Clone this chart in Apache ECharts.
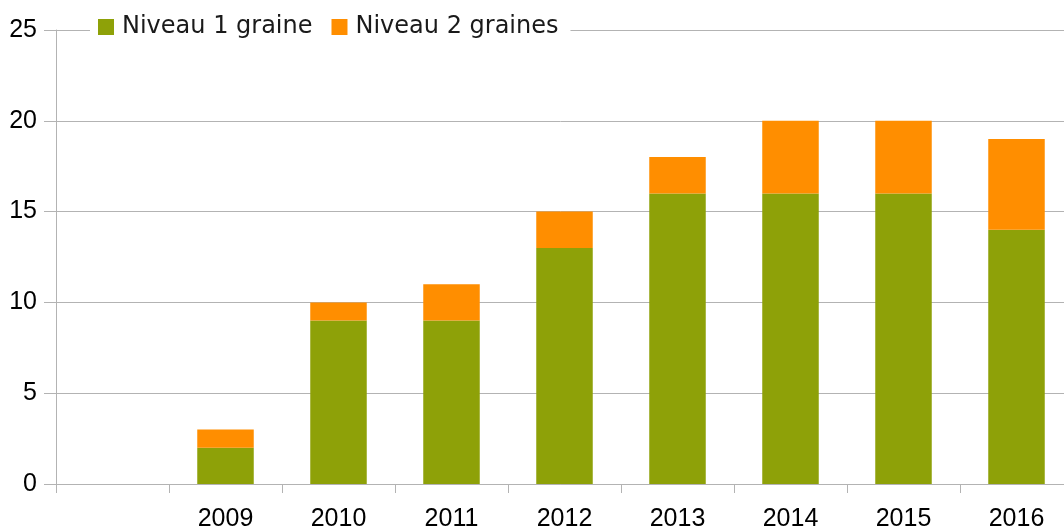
<!DOCTYPE html>
<html>
<head>
<meta charset="utf-8">
<script src="https://cdn.jsdelivr.net/npm/echarts@6/dist/echarts.min.js"></script>
<style>
  html, body { margin: 0; padding: 0; background: #fff; }
  #chart { width: 1064px; height: 527px; }
</style>
</head>
<body>
<div id="chart"></div>
<script>
// first category is empty in the original sheet
var years = ['', '2009', '2010', '2011', '2012', '2013', '2014', '2015', '2016'];
var niveau1 = [null, 2, 9, 9, 13, 16, 16, 16, 14];
var niveau2 = [null, 1, 1, 2, 2, 2, 4, 4, 5];
var yTicks = [0, 5, 10, 15, 20, 25];

var chart = echarts.init(document.getElementById('chart'));

var axisFont = {
    fontFamily: 'Liberation Sans',
    fontSize: 25,
    color: '#000'
};

chart.setOption({
    animation: false,
    grid: {
        left: 56,
        width: 1017,   // the last category runs past the right edge
        top: 30,
        height: 454,
        outerBoundsMode: 'none',
        containLabel: false
    },
    legend: {
        left: 90,
        top: 12,
        padding: [3, 12, 3, 8],
        backgroundColor: '#fff',
        itemWidth: 16,
        itemHeight: 16,
        itemGap: 19,
        icon: 'rect',
        textStyle: {
            fontFamily: 'DejaVu Sans',
            fontSize: 24,
            color: '#1a1a1a',
            padding: [0, 0, 0, 3]
        },
        data: ['Niveau 1 graine', 'Niveau 2 graines']
    },
    xAxis: {
        type: 'category',
        data: years,
        boundaryGap: true,
        axisLine: { lineStyle: { color: '#b3b3b3', width: 1 } },
        axisTick: { show: true, length: 9, interval: 0, lineStyle: { color: '#b3b3b3' } },
        axisLabel: Object.assign({ margin: 23, interval: 0 }, axisFont)
    },
    yAxis: {
        type: 'value',
        min: yTicks[0],
        max: yTicks[yTicks.length - 1],
        interval: 5,
        axisLine: { show: true, lineStyle: { color: '#b3b3b3', width: 1 } },
        axisTick: { show: true, length: 12, lineStyle: { color: '#b3b3b3' } },
        axisLabel: Object.assign({ margin: 19 }, axisFont),
        splitLine: { lineStyle: { color: '#b3b3b3', width: 1 } }
    },
    series: [
        {
            name: 'Niveau 1 graine',
            type: 'bar',
            stack: 'total',
            barWidth: '50%',
            itemStyle: { color: '#8ea108' },
            data: niveau1
        },
        {
            name: 'Niveau 2 graines',
            type: 'bar',
            stack: 'total',
            barWidth: '50%',
            itemStyle: { color: '#ff8e00' },
            data: niveau2
        }
    ]
});
</script>
</body>
</html>
